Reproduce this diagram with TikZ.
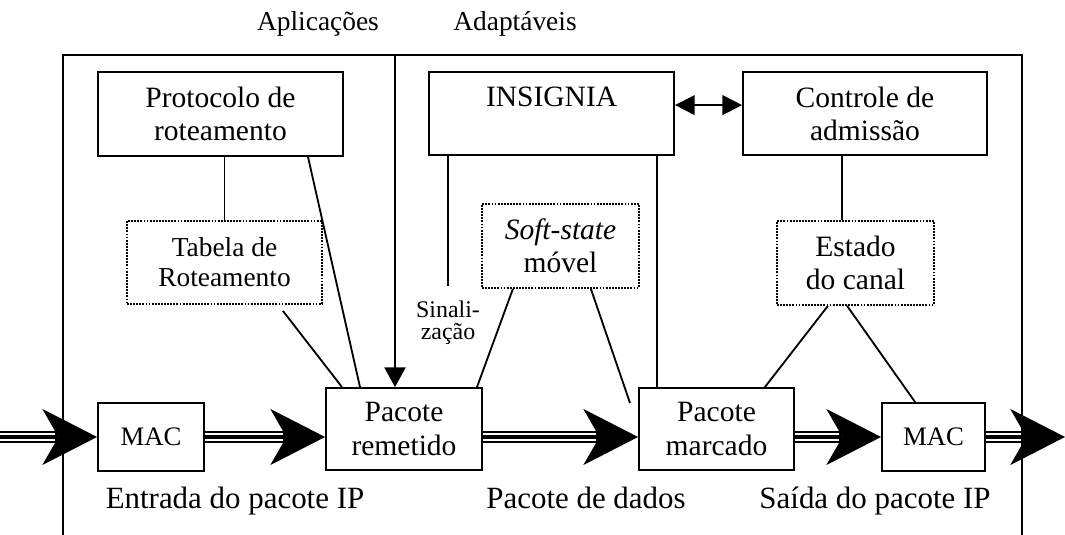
\documentclass[tikz,border=0pt]{standalone}
\usepackage{fontspec}
\setmainfont{Liberation Serif}
\usetikzlibrary{arrows.meta}

\tikzset{
    caixa/.style={draw, line width=1.3pt, align=center, inner sep=0pt,
        font=\fontsize{21}{23.5}\selectfont},
    tabela/.style={caixa, dash pattern=on 1.3pt off 0.9pt},
    liga/.style={line width=1.3pt},
    fluxo/.style={line width=9.2pt,
        -{Stealth[length=39pt, width=40pt, inset=11.5pt, line width=0pt]},
        postaction={draw, white, line width=5.1pt, arrows=-, shorten >=30pt},
        postaction={draw, black, line width=3pt, arrows=-, shorten >=30pt}},
    rotulo/.style={anchor=base, font=\fontsize{22}{26}\selectfont}
}

\begin{document}
\begin{tikzpicture}
        \useasboundingbox (0,0) rectangle (26.625,13.375);
        \node[caixa, minimum width=6.125cm, minimum height=2.1cm]   (prot)  at (5.51,10.525)    {Protocolo de\\roteamento};
        \node[caixa, minimum width=6.125cm, minimum height=2.075cm] (insig) at (13.79,10.5375)  {INSIGNIA\\\mbox{}};
        \node[caixa, minimum width=6.1cm, minimum height=2.075cm]   (adm)   at (21.625,10.5375) {Controle de\\admissão};
        \node[tabela, font=\fontsize{19.5}{21.5}\selectfont,
              minimum width=4.875cm, minimum height=2.075cm]        (tab)   at (5.6125,6.8125)  {Tabela de\\Roteamento};
        \node[tabela, minimum width=3.925cm, minimum height=2.1cm]  (soft)  at (14.0125,7.225)  {\textit{Soft-state}\\móvel};
        \node[tabela, minimum width=3.925cm, minimum height=2.1cm]  (est)   at (21.3875,6.8)    {Estado\\do canal};
        \node[caixa, font=\fontsize{19}{22}\selectfont,
              minimum width=2.65cm, minimum height=1.7cm]           (mac1)  at (3.775,2.45)     {MAC};
        \node[caixa, minimum width=3.9cm, minimum height=2.05cm]    (rem)   at (10.1,2.65)      {Pacote\\remetido};
        \node[caixa, minimum width=3.875cm, minimum height=2.05cm]  (marc)  at (17.9125,2.65)   {Pacote\\marcado};
        \node[caixa, font=\fontsize{19}{22}\selectfont,
              minimum width=2.575cm, minimum height=1.7cm]          (mac2)  at (23.3375,2.45)   {MAC};
        \node[font=\fontsize{17}{16}\selectfont, align=center]     (sinal) at (11.2,5.3)       {Sinali-\\zação};
        \node[rotulo, font=\fontsize{19.5}{22}\selectfont] (apl) at (7.95,12.6)   {Aplicações};
        \node[rotulo, font=\fontsize{19.5}{22}\selectfont] (ada) at (12.875,12.6) {Adaptáveis};
        \node[rotulo] (lent) at (5.875,0.65)  {Entrada do pacote IP};
        \node[rotulo] (ldad) at (14.65,0.65)  {Pacote de dados};
        \node[rotulo] (lsai) at (21.875,0.65) {Saída do pacote IP};
        \coordinate (ent)  at (0,2.45);
        \coordinate (sai)  at (26.625,2.45);
        \coordinate (topo) at (9.875,12);
        \coordinate (sig)  at (11.2,6.225);
        \coordinate (pont) at (15.75,3.3);

        \draw[fluxo] (ent) -- (mac1.west);
        \draw[fluxo] (mac1.east) -- (mac1.east -| rem.west);
        \draw[fluxo] (rem.east |- mac1.east) -- (mac1.east -| marc.west);
        \draw[fluxo] (marc.east |- mac2.west) -- (mac2.west);
        \draw[fluxo] (mac2.east) -- (sai);

        \draw[liga] (1.575,0) |- (25.55,12) -- (25.55,0);
        \draw[liga, -{Triangle[length=14pt, width=15pt]}] (topo) -- (topo |- rem.north);
        \draw[liga, {Triangle[length=14pt, width=14pt]}-{Triangle[length=14pt, width=14pt]}]
            ([yshift=0.21cm]insig.east) -- ([yshift=0.21cm]insig.east -| adm.west);
        \draw[liga] (tab.north) -- (tab.north |- prot.south);
        \draw[liga] ([xshift=2.19cm]prot.south) -- ([xshift=-1.1cm]rem.north);
        \draw[liga] ([xshift=1.46cm, yshift=-0.15cm]tab.south) -- ([xshift=-1.55cm]rem.north);
        \draw[liga] ([xshift=-2.59cm]insig.south) -- (sig);
        \draw[liga] ([xshift=-1.19cm]soft.south) -- ([xshift=1.825cm]rem.north);
        \draw[liga] ([xshift=0.76cm]soft.south) -- (pont);
        \draw[liga] ([xshift=-1.49cm]marc.north) -- ([xshift=-1.49cm]marc.north |- insig.south);
        \draw[liga] ([xshift=-0.34cm]est.north) -- ([xshift=-0.34cm]est.north |- adm.south);
        \draw[liga] ([xshift=-0.69cm]est.south) -- ([xshift=1.21cm]marc.north);
        \draw[liga] ([xshift=-0.21cm]est.south) -- ([xshift=-0.46cm]mac2.north);
\end{tikzpicture}
\end{document}
